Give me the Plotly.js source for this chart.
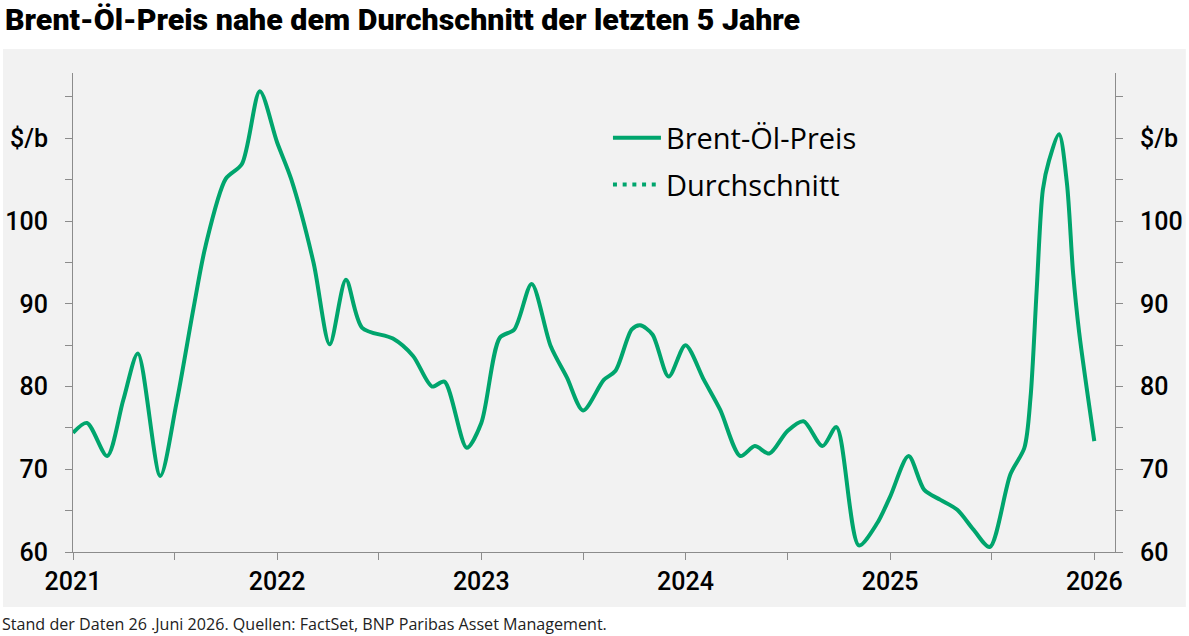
<!DOCTYPE html>
<html>
<head>
<meta charset="utf-8">
<script src="https://cdn.plot.ly/plotly-3.0.1.min.js"></script>
<style>
  html, body { margin: 0; padding: 0; background: #fff; }
  #chart { width: 1189px; height: 636px; }
</style>
</head>
<body>
<div id="chart"></div>
<script>
// Brent price (USD per barrel)
var dates = [
  '2021-01-01','2021-01-26','2021-03-03','2021-04-01','2021-04-27','2021-06-06',
  '2021-07-05','2021-08-04','2021-08-26','2021-10-01','2021-10-30','2021-12-01',
  '2022-01-01','2022-01-26','2022-03-07','2022-04-05','2022-05-04','2022-06-02',
  '2022-07-27','2022-09-01','2022-10-05','2022-10-27','2022-12-06',
  '2023-01-01','2023-02-03','2023-03-01','2023-04-01','2023-05-05','2023-06-03',
  '2023-07-02','2023-08-08','2023-08-29','2023-09-27','2023-10-12','2023-11-03',
  '2023-12-02','2024-01-01','2024-02-03','2024-03-03','2024-04-08','2024-05-04',
  '2024-05-30','2024-07-01','2024-07-30','2024-09-02','2024-09-27','2024-11-06',
  '2024-12-09','2025-01-01','2025-02-03','2025-03-03','2025-04-01','2025-05-01',
  '2025-05-30','2025-06-28','2025-08-04','2025-08-29','2025-09-09','2025-09-20',
  '2025-10-01','2025-10-12','2025-10-30','2025-11-13','2025-11-24','2025-12-05',
  '2026-01-01'
];
var brent = [
  74.4, 75.6, 71.6, 78.4, 84.0, 69.2,
  78.0, 89.3, 97.0, 105.1, 106.9, 115.7,
  109.5, 105.1, 95.0, 85.1, 92.9, 87.1,
  85.8, 83.7, 80.0, 80.6, 72.6,
  75.6, 85.9, 86.9, 92.4, 84.9, 81.1,
  77.1, 80.8, 81.9, 86.9, 87.4, 86.3,
  81.2, 85.0, 80.8, 77.2, 71.6, 72.8,
  71.9, 74.6, 75.8, 72.8, 75.1, 60.8,
  63.5, 66.7, 71.6, 67.5, 66.3, 65.1,
  62.7, 60.6, 69.4, 72.6, 78.7, 91.7,
  103.8, 107.3, 110.5, 104.6, 93.8, 86.5,
  73.4
];
// the average line is only in the legend, it is not drawn in the picture
var avgDates = ['2021-01-01'];
var avgValues = [null];

var yearTicks = ['2021-01-01','2022-01-01','2023-01-01','2024-01-01','2025-01-01','2026-01-01'];
var yearLabels = ['2021','2022','2023','2024','2025','2026'];
var halfYearTicks = ['2021-07-02','2022-07-02','2023-07-02','2024-07-02','2025-07-02'];
var yTickVals = [60, 70, 80, 90, 100, 110];
var yTickText = ['60', '70', '80', '90', '100', '$/b'];

var green = '#00a56d';
var axisGrey = '#8c8c8c';

var traces = [
  {
    x: dates, y: brent, name: 'Brent-Öl-Preis',
    type: 'scatter', mode: 'lines',
    line: {color: green, width: 4, shape: 'spline', smoothing: 0.8},
    legend: 'legend'
  },
  {
    x: avgDates, y: avgValues, name: 'Durchschnitt',
    type: 'scatter', mode: 'lines',
    line: {color: green, width: 4, dash: '4px,5.7px'},
    legend: 'legend2'
  },
  {
    x: [], y: [], yaxis: 'y2', showlegend: false, hoverinfo: 'skip'
  }
];

var tickFont = {family: 'Roboto, sans-serif', size: 25, color: '#000', weight: 500};
var legendFont = {family: '"Open Sans", sans-serif', size: 29, color: '#000'};

var yCommon = {
  range: [60, 117.9],
  tickmode: 'array', tickvals: yTickVals, ticktext: yTickText,
  ticks: 'outside', ticklen: 7, tickcolor: axisGrey, tickwidth: 1,
  minor: {dtick: 5, tick0: 60, ticks: 'outside', ticklen: 7, tickcolor: axisGrey, tickwidth: 1, showgrid: false},
  showline: true, linecolor: axisGrey, linewidth: 1,
  showgrid: false, zeroline: false,
  tickfont: tickFont, ticklabelstandoff: 12
};

var layout = {
  width: 1189, height: 636,
  margin: {l: 73, r: 74, t: 73, b: 84},
  paper_bgcolor: '#ffffff',
  plot_bgcolor: 'rgba(0,0,0,0)',
  showlegend: true,
  title: {
    text: 'Brent-Öl-Preis nahe dem Durchschnitt der letzten 5 Jahre',
    font: {family: 'Roboto, sans-serif', size: 30.4, color: '#000', weight: 900},
    x: 0.0042, xanchor: 'left', xref: 'container', y: 0.970, yanchor: 'middle'
  },
  xaxis: {
    type: 'date',
    range: ['2021-01-01', '2026-02-07'],
    tickmode: 'array', tickvals: yearTicks, ticktext: yearLabels,
    ticks: 'outside', ticklen: 7, tickcolor: axisGrey, tickwidth: 1,
    minor: {tickmode: 'array', tickvals: halfYearTicks,
            ticks: 'outside', ticklen: 7, tickcolor: axisGrey, tickwidth: 1, showgrid: false},
    showline: true, linecolor: axisGrey, linewidth: 1,
    showgrid: false, zeroline: false,
    tickfont: tickFont
  },
  yaxis: Object.assign({}, yCommon, {side: 'left'}),
  yaxis2: Object.assign({}, yCommon, {side: 'right', overlaying: 'y', anchor: 'x'}),
  legend: {
    x: 0.5134, y: 0.918, xanchor: 'left', yanchor: 'top',
    bgcolor: 'rgba(0,0,0,0)', font: legendFont, itemwidth: 48
  },
  legend2: {
    x: 0.5134, y: 0.820, xanchor: 'left', yanchor: 'top',
    bgcolor: 'rgba(0,0,0,0)', font: legendFont, itemwidth: 48
  },
  shapes: [{
    type: 'rect', xref: 'paper', yref: 'paper',
    x0: -0.0672, x1: 1.068, y0: -0.1148, y1: 1.050,
    fillcolor: '#f2f2f2', line: {width: 0}, layer: 'below'
  }],
  annotations: [{
    text: 'Stand der Daten 26 .Juni 2026. Quellen: FactSet, BNP Paribas Asset Management.',
    xref: 'paper', yref: 'paper', x: -0.070, y: -0.123,
    xanchor: 'left', yanchor: 'top', showarrow: false,
    font: {family: '"Open Sans", sans-serif', size: 16.1, color: '#222'}
  }]
};

Plotly.newPlot('chart', traces, layout, {displayModeBar: false, staticPlot: true});
</script>
</body>
</html>
